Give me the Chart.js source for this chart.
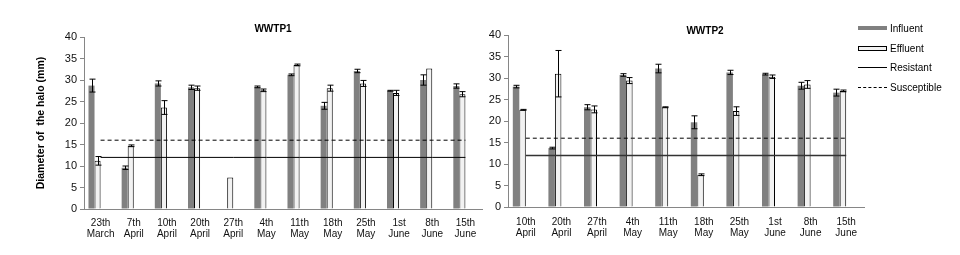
<!DOCTYPE html>
<html lang="en">
<head>
<meta charset="UTF-8">
<title>Diameter of the halo - WWTP1 / WWTP2</title>
<script src="https://cdn.jsdelivr.net/npm/chart.js"></script>
<style>
    body {
        margin: 0;
        width: 960px;
        height: 255px;
        background: #fff;
        position: relative;
        overflow: hidden;
        font-family: "Liberation Sans", Arial, sans-serif;
        color: #000;
    }

    canvas {
        position: absolute;
        top: 0;
    }

    #wwtp1 { left: 0; }
    #wwtp2 { left: 480px; }

    .title {
        position: absolute;
        font-weight: bold;
        font-size: 10px;
        transform: translate(-50%, -50%);
    }

    .legend {
        position: absolute;
        left: 858px;
        top: 0;
        font-size: 10px;
    }

    .item {
        position: absolute;
        left: 0;
        height: 12px;
        display: flex;
        align-items: center;
        white-space: nowrap;
    }

    .sw {
        display: inline-block;
        width: 29px;
        margin-right: 3px;
        box-sizing: border-box;
    }

    .sw.inf { height: 4px; background: #808080; }
    .sw.eff { height: 5px; background: #f2f2f2; border: 1px solid #000; }
    .sw.res { height: 0; border-top: 1px solid #000; }
    .sw.sus { height: 0; border-top: 1px dashed #000; }
</style>
</head>
<body>
    <canvas id="wwtp1" width="490" height="255"></canvas>
    <canvas id="wwtp2" width="400" height="255"></canvas>

    <div class="title" style="left:273px; top:28px;">WWTP1</div>
    <div class="title" style="left:705px; top:30px;">WWTP2</div>

    <div class="legend">
        <div class="item" style="top:22px;"><span class="sw inf"></span>Influent</div>
        <div class="item" style="top:42px;"><span class="sw eff"></span>Effluent</div>
        <div class="item" style="top:61px;"><span class="sw res"></span>Resistant</div>
        <div class="item" style="top:81px;"><span class="sw sus"></span>Susceptible</div>
    </div>

<script>
    // WWTP1
    const labels1 = [['23th', 'March'], ['7th', 'April'], ['10th', 'April'], ['20th', 'April'],
        ['27th', 'April'], ['4th', 'May'], ['11th', 'May'], ['18th', 'May'], ['25th', 'May'],
        ['1st', 'June'], ['8th', 'June'], ['15th', 'June']];
    const influent1 = [28.7, 9.6, 29.2, 28.3, null, 28.4, 31.2, 24.0, 32.1, 27.5, 30.0, 28.6];
    const influentErr1 = [1.5, 0.4, 0.6, 0.5, null, 0.2, 0.2, 0.8, 0.4, 0.1, 1.2, 0.5];
    const effluent1 = [11.2, 14.7, 23.6, 28.1, 7.3, 27.6, 33.5, 28.1, 29.2, 27.0, 32.7, 26.7];
    const effluentErr1 = [1.0, 0.2, 1.6, 0.5, 0, 0.3, 0.2, 0.7, 0.7, 0.6, 0, 0.6];
    const resistant1 = [12, 12, 12, 12, 12, 12, 12, 12, 12, 12, 12, 12];
    const susceptible1 = [16, 16, 16, 16, 16, 16, 16, 16, 16, 16, 16, 16];

    // WWTP2
    const labels2 = [['10th', 'April'], ['20th', 'April'], ['27th', 'April'], ['4th', 'May'],
        ['11th', 'May'], ['18th', 'May'], ['25th', 'May'], ['1st', 'June'], ['8th', 'June'],
        ['15th', 'June']];
    const influent2 = [28.0, 13.7, 23.2, 30.7, 32.2, 19.7, 31.3, 30.9, 28.2, 26.6];
    const influentErr2 = [0.3, 0.2, 0.6, 0.3, 1.0, 1.5, 0.5, 0.2, 0.8, 0.8];
    const effluent2 = [22.6, 31.0, 22.7, 29.4, 23.2, 7.5, 22.3, 30.3, 28.5, 27.0];
    const effluentErr2 = [0.1, 5.4, 0.8, 0.7, 0.1, 0.2, 1.0, 0.4, 0.9, 0.2];
    const resistant2 = [12, 12, 12, 12, 12, 12, 12, 12, 12, 12];
    const susceptible2 = [16, 16, 16, 16, 16, 16, 16, 16, 16, 16];

    const yTicks = { min: 0, max: 40, step: 5 };

    Chart.defaults.font.family = '"Liberation Sans", Arial, sans-serif';
    Chart.defaults.color = '#111';

    // draws +/- error whiskers on top of the bars
    const errorBars = {
        id: 'errorBars',
        afterDatasetsDraw(chart) {
            const ctx = chart.ctx;
            const y = chart.scales.y;
            chart.data.datasets.forEach((ds, i) => {
                if (!ds.errors) return;
                const meta = chart.getDatasetMeta(i);
                meta.data.forEach((bar, j) => {
                    const v = ds.data[j];
                    const e = ds.errors[j];
                    if (v == null || !e) return;
                    const x = Math.round(bar.x) + 0.5;
                    const top = y.getPixelForValue(v + e);
                    const bot = y.getPixelForValue(v - e);
                    ctx.save();
                    ctx.strokeStyle = '#000';
                    ctx.lineWidth = 1;
                    ctx.beginPath();
                    ctx.moveTo(x, top);
                    ctx.lineTo(x, bot);
                    ctx.moveTo(x - 3, top);
                    ctx.lineTo(x + 3, top);
                    ctx.moveTo(x - 3, bot);
                    ctx.lineTo(x + 3, bot);
                    ctx.stroke();
                    ctx.restore();
                });
            });
        }
    };

    function makeChart(id, labels, inf, infErr, eff, effErr, res, sus, cfg) {
        return new Chart(document.getElementById(id), {
            type: 'bar',
            data: {
                labels: labels,
                datasets: [
                    {
                        label: 'Influent',
                        data: inf,
                        errors: infErr,
                        backgroundColor: '#808080',
                        borderWidth: 0
                    },
                    {
                        label: 'Effluent',
                        data: eff,
                        errors: effErr,
                        backgroundColor: '#f2f2f2',
                        borderColor: '#000',
                        borderWidth: 1
                    },
                    // two empty slots so the pair sits left of the category centre, as in the original
                    { label: 'spacer1', data: [] },
                    { label: 'spacer2', data: [] },
                    {
                        type: 'line',
                        label: 'Resistant',
                        data: res,
                        borderColor: cfg.resColor,
                        borderWidth: cfg.resWidth,
                        pointRadius: 0,
                        order: -1
                    },
                    {
                        type: 'line',
                        label: 'Susceptible',
                        data: sus,
                        borderColor: '#000',
                        borderWidth: 1,
                        borderDash: [4, 3],
                        pointRadius: 0,
                        order: -1
                    }
                ]
            },
            options: {
                responsive: false,
                animation: false,
                categoryPercentage: 0.73,
                barPercentage: 1.0,
                layout: { padding: cfg.padding },
                plugins: {
                    legend: { display: false },
                    tooltip: { enabled: false }
                },
                scales: {
                    x: {
                        grid: { display: false },
                        border: { display: true, color: '#868686' },
                        ticks: {
                            font: { size: 10, lineHeight: 1.15 },
                            padding: cfg.xPad,
                            maxRotation: 0,
                            autoSkip: false
                        },
                        afterFit(scale) { scale.height = 46; }
                    },
                    y: {
                        min: yTicks.min,
                        max: yTicks.max,
                        ticks: { stepSize: yTicks.step, font: { size: 11 }, padding: 3 },
                        grid: {
                            display: true,
                            drawOnChartArea: false,
                            drawTicks: true,
                            tickLength: 4,
                            color: '#868686'
                        },
                        border: { display: true, color: '#868686' },
                        title: {
                            display: cfg.yTitle,
                            text: 'Diameter of  the halo (mm)',
                            font: { size: 10.5, weight: 'bold' },
                            color: '#000',
                            padding: { top: 8, bottom: 0 }
                        },
                        afterFit(scale) { scale.width = cfg.yWidth; }
                    }
                }
            },
            plugins: [errorBars]
        });
    }

    makeChart('wwtp1', labels1, influent1, influentErr1, effluent1, effluentErr1, resistant1, susceptible1, {
        padding: { left: 27, top: 37, right: 8, bottom: 0 },
        yWidth: 57,
        yTitle: true,
        xPad: 0,
        resColor: '#000',
        resWidth: 1
    });

    makeChart('wwtp2', labels2, influent2, influentErr2, effluent2, effluentErr2, resistant2, susceptible2, {
        padding: { left: 0, top: 35, right: 16, bottom: 2 },
        yWidth: 28,
        yTitle: false,
        xPad: 1,
        resColor: '#333',
        resWidth: 1.5
    });
</script>
</body>
</html>
